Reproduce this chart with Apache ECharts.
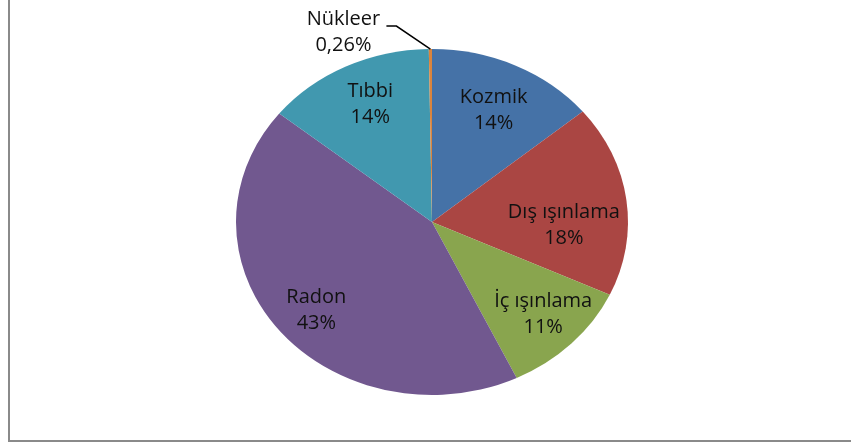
<!DOCTYPE html>
<html>
<head>
<meta charset="utf-8">
<script src="https://cdn.jsdelivr.net/npm/echarts@6/dist/echarts.min.js"></script>
<style>
  html, body { margin: 0; padding: 0; background: #fff; overflow: hidden; }
  #wrap  { position: relative; width: 851px; height: 448px; }
  #frame { position: absolute; left: 8px; top: -10px; width: 900px; height: 452px;
           border-left: 2px solid #8a8a8a; border-bottom: 2px solid #8a8a8a; box-sizing: border-box; }
  #chart { position: absolute; left: 0; top: 0; width: 851px; height: 448px; }
</style>
</head>
<body>
<div id="wrap">
  <div id="frame"></div>
  <div id="chart"></div>
</div>
<script>
'use strict';

// ── Data ──────────────────────────────────────────────────────────────────────
const names  = ['Kozmik', 'Dış ışınlama', 'İç ışınlama', 'Radon', 'Tıbbi', 'Nükleer'];
const values = [14, 18, 11, 43, 14, 0.26];
const colors = ['#4572A7', '#AA4643', '#89A54E', '#71588F', '#4198AF', '#DB843D'];

// ── Layout (Excel stretched pie → ellipse) ───────────────────────────────────
const CX = 432, CY = 222, RX = 196, RY = 173;
const LABEL_R = 0.74;
// small label nudges, Excel does not put them exactly on the mid-angle
const labelNudge = [[0, 4], [-12, 20], [8, 2], [-2, 9], [2, -3], [0, 0]];

const total = values.reduce((a, b) => a + b, 0);
const cumul = values.map((v, i) => values.slice(0, i).reduce((a, b) => a + b, 0));

function pctText(v) {
  const p = v / total * 100;
  return p < 1 ? p.toFixed(2).replace('.', ',') + '%' : Math.round(p) + '%';
}

function renderSlice(params, api) {
  const i = params.dataIndex;
  const v = api.value(0);
  const a0 = cumul[i] / total * Math.PI * 2;        // from 12 o'clock, clockwise
  const a1 = a0 + v / total * Math.PI * 2;
  const am = (a0 + a1) / 2;
  const textStyle = {
    text: names[i] + '\n' + pctText(v),
    align: 'center', verticalAlign: 'middle',
    fontFamily: 'Open Sans', fontSize: 20, lineHeight: 26, fill: '#111'
  };

  const children = [{
    type: 'sector',
    shape: { cx: CX, cy: CY, r0: 0, r: RX,
             startAngle: a0 - Math.PI / 2, endAngle: a1 - Math.PI / 2, clockwise: true },
    scaleY: RY / RX, originX: CX, originY: CY,
    style: { fill: colors[i] }
  }];

  if (v / total < 0.02) {
    // tiny slice → outside label with leader line
    const px = CX + RX * Math.sin(am), py = CY - RY * Math.cos(am);
    const ex = px - 34, ey = py - 23;
    children.push({
      type: 'polyline', z2: 10,
      shape: { points: [[px, py], [ex, ey], [ex - 10, ey]] },
      style: { stroke: '#000', lineWidth: 1.5, fill: null }
    });
    children.push({ type: 'text', z2: 11, x: ex - 53, y: ey + 6, style: textStyle });
  } else {
    children.push({
      type: 'text', z2: 11,
      x: CX + LABEL_R * RX * Math.sin(am) + labelNudge[i][0],
      y: CY - LABEL_R * RY * Math.cos(am) + labelNudge[i][1],
      style: textStyle
    });
  }
  return { type: 'group', children };
}

const chart = echarts.init(document.getElementById('chart'), null, { renderer: 'canvas' });
chart.setOption({
  animation: false,
  series: [{
    type: 'custom',
    coordinateSystem: 'none',
    data: values.map(v => [v]),
    renderItem: renderSlice
  }]
});
</script>
</body>
</html>
